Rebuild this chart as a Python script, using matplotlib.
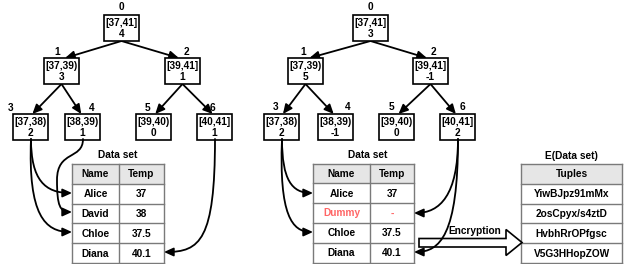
import matplotlib
matplotlib.use("Agg")
import matplotlib.pyplot as plt
from matplotlib.patches import Rectangle, FancyArrowPatch, Polygon
from matplotlib.path import Path

# ---------------- data ----------------
node_ranges = ["[37,41]", "[37,39)", "[39,41]", "[37,38)", "[38,39)", "[39,40)", "[40,41]"]
node_ids = ["0", "1", "2", "3", "4", "5", "6"]
counts_left = ["4", "3", "1", "2", "1", "0", "1"]
counts_right = ["3", "5", "-1", "2", "-1", "0", "2"]
edges = [(0, 1), (0, 2), (1, 3), (1, 4), (2, 5), (2, 6)]

table_header = ["Name", "Temp"]
left_names = ["Alice", "David", "Chloe", "Diana"]
left_temps = ["37", "38", "37.5", "40.1"]
right_names = ["Alice", "Dummy", "Chloe", "Diana"]
right_temps = ["37", "-", "37.5", "40.1"]
dummy_row = 1
enc_header = "Tuples"
enc_tuples = ["YiwBJpz91mMx", "2osCpyx/s4ztD", "HvbhRrOPfgsc", "V5G3HHopZOW"]

# ---------------- layout ----------------
FONT = "Liberation Sans"
FS = 7.3
box_w = 35
level_top = [15, 58, 58, 114, 114, 114, 114]
box_h = 26
left_box_x = [104, 44, 165, 13, 65, 136, 197]
right_box_x = [353, 288, 413, 264, 318, 379, 440]
left_lbl = [(121, 7), (57, 52), (186, 52), (11, 108), (92, 108), (148, 108), (212, 108)]
right_lbl = [(370, 7), (303, 52), (433, 52), (276, 107), (348, 107), (392, 107), (463, 107)]
ARROW = "-|>,head_length=0.55,head_width=0.25"

fig = plt.figure(figsize=(6.24, 2.64), dpi=100)
ax = fig.add_axes([0, 0, 1, 1])
ax.set_xlim(0, 624)
ax.set_ylim(264, 0)
ax.axis("off")


def txt(x, y, s, color="black", size=FS):
    ax.text(x, y, s, ha="center", va="center", fontsize=size, fontweight="bold",
            family=FONT, color=color, zorder=6)


def draw_tree(box_x, lbls, counts):
    for i in range(len(node_ranges)):
        x0 = box_x[i]
        y0 = level_top[i]
        ax.add_patch(Rectangle((x0, y0), box_w, box_h, fill=True, facecolor="white",
                               edgecolor="black", lw=1.2, zorder=3))
        txt(x0 + box_w / 2, y0 + 8, node_ranges[i])
        txt(x0 + box_w / 2, y0 + 19, counts[i])
        txt(lbls[i][0], lbls[i][1], node_ids[i])
    for p, c in edges:
        px = box_x[p] + box_w / 2
        py = level_top[p] + box_h
        cx = box_x[c] + box_w / 2
        cy = level_top[c]
        dx = (px - cx) * 0.06
        ax.add_patch(FancyArrowPatch((px, py), (cx + dx, cy), arrowstyle=ARROW,
                                     mutation_scale=10, lw=1.3, color="black",
                                     shrinkA=0, shrinkB=0, zorder=2))


def draw_table(x0, xs, x1, top, rows, header, colors=None, rh=19.8):
    n = len(rows) + 1
    cols = [x0, xs, x1] if xs is not None else [x0, x1]
    ax.add_patch(Rectangle((x0, top), x1 - x0, rh, facecolor="#e6e6e6",
                           edgecolor="none", zorder=1))
    for k in range(n + 1):
        ax.plot([x0, x1], [top + k * rh, top + k * rh], color="#7a7a7a", lw=1.0, zorder=2)
    for cx in cols:
        ax.plot([cx, cx], [top, top + n * rh], color="#7a7a7a", lw=1.0, zorder=2)
    allrows = [header] + rows
    for r, row in enumerate(allrows):
        for c, val in enumerate(row):
            xc = (cols[c] + cols[c + 1]) / 2
            col = "black"
            if colors is not None and r - 1 == colors:
                col = "#ff6666"
            txt(xc, top + r * rh + rh / 2 + 0.5, val, color=col)


def curve(points):
    verts = [points[0]]
    codes = [Path.MOVETO]
    for seg in points[1:]:
        verts.extend(seg)
        codes.extend([Path.CURVE4] * 3)
    path = Path(verts, codes)
    ax.add_patch(FancyArrowPatch(path=path, arrowstyle=ARROW, mutation_scale=10,
                                 lw=1.3, color="black", zorder=4,
                                 shrinkA=0, shrinkB=0))


# left tree
draw_tree(left_box_x, left_lbl, counts_left)
txt(118, 155, "Data set")
draw_table(72, 119, 164, 164, [list(r) for r in zip(left_names, left_temps)], table_header)

# right tree
draw_tree(right_box_x, right_lbl, counts_right)
txt(368, 155, "Data set")
draw_table(313, 370, 414, 163.5, [list(r) for r in zip(right_names, right_temps)],
           table_header, colors=dummy_row)

# encrypted table
txt(571, 156, "E(Data set)")
draw_table(521, None, 622, 164, [[t] for t in enc_tuples], [enc_header])

# left curves
curve([(31, 139), [(31, 180), (45, 193), (72, 193)]])
curve([(31, 139), [(28, 215), (45, 232), (72, 232)]])
curve([(83, 139), [(83, 160), (57, 150), (57, 180)], [(57, 206), (60, 212), (72, 212)]])
curve([(215, 139), [(215, 240), (200, 252), (164, 252)]])

# right curves
curve([(282, 139), [(282, 180), (292, 193), (313, 193)]])
curve([(282, 139), [(279, 215), (292, 232), (313, 232)]])
curve([(458, 139), [(458, 195), (440, 213), (414, 213)]])
curve([(458, 139), [(458, 235), (440, 252), (414, 252)]])

# encryption block arrow
ax.add_patch(Polygon([(419, 238.5), (506, 238.5), (506, 229.5), (522, 242.5),
                      (506, 255.5), (506, 247), (419, 247)], closed=True,
                     facecolor="white", edgecolor="black", lw=1.2, zorder=3))
txt(475, 230.5, "Encryption")

fig.savefig("out.png", dpi=100)
